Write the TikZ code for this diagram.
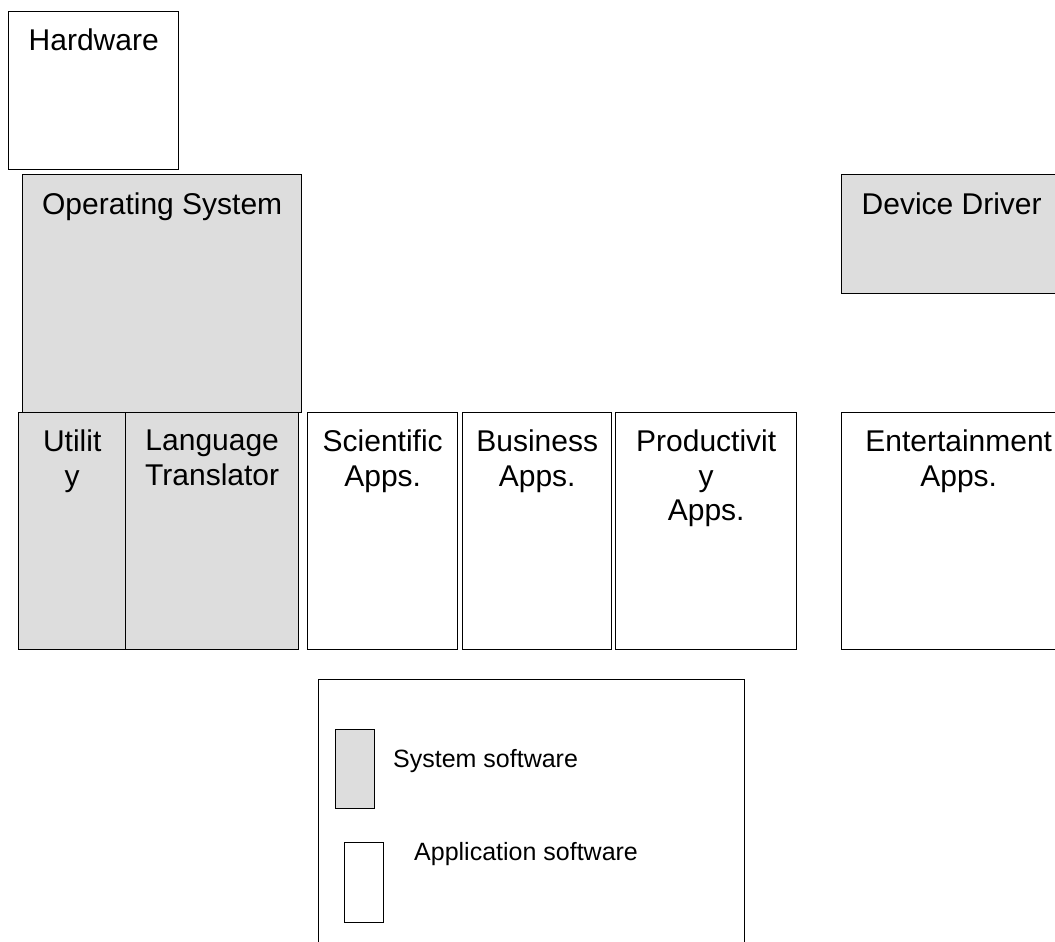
\documentclass[tikz,border=0pt]{standalone}
\usepackage{fontspec}
\setmainfont{Liberation Sans}
\usepackage{tikz}
\usetikzlibrary{positioning}
\definecolor{sysgray}{RGB}{221,221,221}
\tikzset{
  sysbox/.style={draw, fill=sysgray, line width=1.4pt, rectangle, inner sep=0pt, anchor=north west},
  appbox/.style={draw, fill=white, line width=1.4pt, rectangle, inner sep=0pt, anchor=north west},
  lbl/.style={font=\fontsize{30}{34.5}\selectfont, align=center, anchor=north, inner sep=0pt},
  keytxt/.style={font=\fontsize{25}{29}\selectfont, anchor=base west, inner sep=0pt},
}

\begin{document}
\begin{tikzpicture}[x=1pt,y=-1pt]
\useasboundingbox (0,0) rectangle (1055,942);
\node[appbox, minimum width=170pt, minimum height=158pt] (hw) at (8,11) {};
\node[lbl] (thw) at ([yshift=-18pt]hw.north) {Hardware};
\node[sysbox, minimum width=279pt, minimum height=238pt] (os) at (22,174) {};
\node[lbl] (tos) at ([yshift=-19pt]os.north) {Operating System};
\node[sysbox, minimum width=220pt, minimum height=119pt] (dd) at (841,174) {};
\node[lbl] (tdd) at ([yshift=-19pt]dd.north) {Device Driver};
\node[sysbox, minimum width=107pt, minimum height=237pt] (util) at (18,412) {};
\node[lbl] (tutil) at ([yshift=-18pt]util.north) {Utilit\\y};
\node[sysbox, minimum width=173pt, minimum height=237pt] (lang) at (125,412) {};
\node[lbl] (tlang) at ([yshift=-18pt]lang.north) {Language\\Translator};
\node[appbox, minimum width=150pt, minimum height=237pt] (sci) at (307,412) {};
\node[lbl] (tsci) at ([yshift=-18pt]sci.north) {Scientific\\Apps.};
\node[appbox, minimum width=149pt, minimum height=237pt] (bus) at (462,412) {};
\node[lbl] (tbus) at ([yshift=-18pt]bus.north) {Business\\Apps.};
\node[appbox, minimum width=181pt, minimum height=237pt] (prod) at (615,412) {};
\node[lbl] (tprod) at ([yshift=-18pt]prod.north) {Productivit\\y\\Apps.};
\node[appbox, minimum width=234pt, minimum height=237pt] (ent) at (841,412) {};
\node[lbl] (tent) at ([yshift=-18pt]ent.north) {Entertainment\\Apps.};
\node[appbox, minimum width=426pt, minimum height=300pt] (key) at (318,679) {};
\node[sysbox, minimum width=39pt, minimum height=79pt] (keysys) at (335,729) {};
\node[keytxt] (tkeysys) at (393,767) {System software};
\node[appbox, minimum width=39pt, minimum height=80pt] (keyapp) at (344,842) {};
\node[keytxt] (tkeyapp) at (414,860) {Application software};
\end{tikzpicture}
\end{document}
